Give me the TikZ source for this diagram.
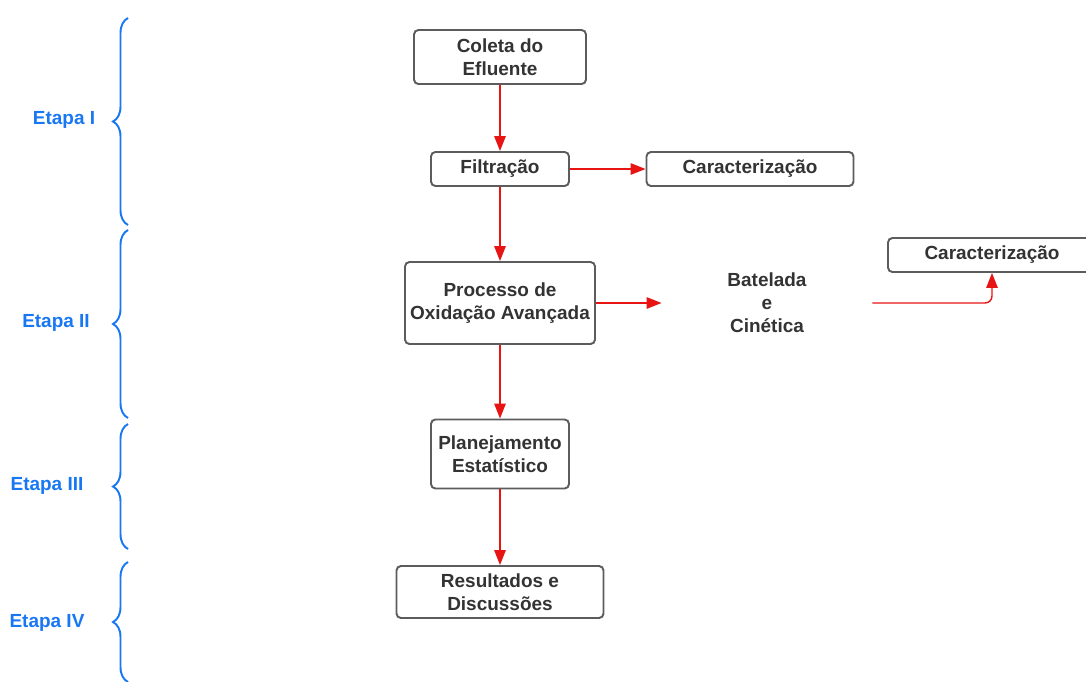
\documentclass[tikz,border=0pt]{standalone}
\usepackage{fontspec}
\setmainfont{Liberation Sans}
\usepackage{tikz}
\usetikzlibrary{calc, arrows.meta, decorations.pathreplacing}
\definecolor{etapablue}{HTML}{1877F2}
\definecolor{boxgray}{HTML}{5C5C5C}
\definecolor{txtgray}{HTML}{333333}
\definecolor{arrowred}{HTML}{E81414}

\begin{document}
\begin{tikzpicture}[x=0.02cm, y=-0.02cm,
		box/.style={draw=boxgray, line width=1.1pt, rounded corners=2.5pt, align=center, inner sep=0pt,
			text=txtgray, font=\fontsize{10.8}{13}\selectfont\bfseries},
		flow/.style={draw=arrowred, line width=0.8pt, -{Triangle[length=8.5pt, width=6.5pt]}},
		etapa/.style={text=etapablue, font=\fontsize{10.8}{13}\selectfont\bfseries},
		chave/.style={draw=etapablue, line width=1.1pt, decorate, decoration={brace, amplitude=0.3cm}}]
			\useasboundingbox (0,0) rectangle (1086,681);
			% caixas do fluxograma
			\node[box, minimum width=3.44cm, minimum height=1.08cm] (coleta) at (500,57) {Coleta do\\Efluente};
			\node[box, minimum width=2.76cm, minimum height=0.68cm] (filtra) at (500,169) {Filtração};
			\node[box, minimum width=4.14cm, minimum height=0.68cm] (carac1) at (750,169) {Caracterização};
			\node[box, minimum width=3.8cm, minimum height=1.64cm] (poa) at (500,303) {Processo de\\Oxidação Avançada};
			\node[box, draw=none, minimum width=4.18cm, minimum height=1.2cm] (batel) at (767,303) {Batelada\\e\\Cinética};
			\node[box, minimum width=4.16cm, minimum height=0.68cm] (carac2) at (992,255) {Caracterização};
			\node[box, minimum width=2.76cm, minimum height=1.38cm] (planej) at (500,454) {Planejamento\\Estatístico};
			\node[box, minimum width=4.14cm, minimum height=1.04cm] (result) at (500,592) {Resultados e\\Discussões};
			% setas
			\draw[flow] (coleta) -- (filtra);
			\draw[flow] (filtra) -- (carac1);
			\draw[flow] (filtra) -- (poa);
			\draw[flow] (poa) -- (batel);
			\draw[flow, rounded corners=4pt] (batel.east) -| (carac2.south);
			\draw[flow] (poa) -- (planej);
			\draw[flow] (planej) -- (result);
			% etapas
			\draw[chave] (128,225) -- (128,18);
			\draw[chave] (128,418) -- (128,230);
			\draw[chave] (128,549) -- (128,424);
			\draw[chave] (128,682) -- (128,562);
			\node[etapa] (et1) at (64,120) {Etapa I};
			\node[etapa] (et2) at (56,323) {Etapa II};
			\node[etapa] (et3) at (47,486) {Etapa III};
			\node[etapa] (et4) at (47,623) {Etapa IV};
		\end{tikzpicture}
\end{document}
